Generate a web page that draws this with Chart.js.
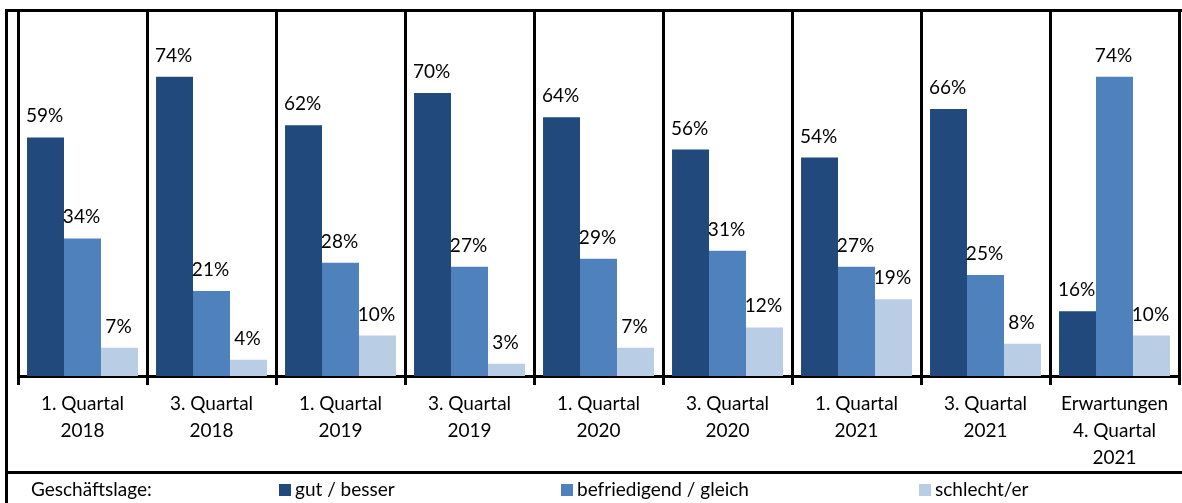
<!DOCTYPE html>
<html>
<head>
<meta charset="utf-8">
<script src="https://cdn.jsdelivr.net/npm/chart.js@4/dist/chart.umd.min.js"></script>
<style>
  body { margin: 0; background: #fff; }
  #wrap { width: 1182px; height: 503px; }
</style>
</head>
<body>
<div id="wrap"><canvas id="chart" width="1182" height="503"></canvas></div>
<script>
// categories (multi-line labels)
const categories = [
  ["1. Quartal", "2018"], ["3. Quartal", "2018"],
  ["1. Quartal", "2019"], ["3. Quartal", "2019"],
  ["1. Quartal", "2020"], ["3. Quartal", "2020"],
  ["1. Quartal", "2021"], ["3. Quartal", "2021"],
  ["Erwartungen", "4. Quartal", "2021"]
];
const seriesNames = ["gut / besser", "befriedigend / gleich", "schlecht/er"];
const gutBesser = [59, 74, 62, 70, 64, 56, 54, 66, 16];
const befriedigend = [34, 21, 28, 27, 29, 31, 27, 25, 74];
const schlechter = [7, 4, 10, 3, 7, 12, 19, 8, 10];
const legendTitle = "Geschäftslage:";

const colors = ["#21497C", "#4F81BD", "#B9CDE5"];
const FONT = "Lato, 'Open Sans', sans-serif";

// value labels above each bar
const valueLabels = {
  id: "valueLabels",
  afterDatasetsDraw(chart) {
    const ctx = chart.ctx;
    ctx.save();
    ctx.font = "19px " + FONT;
    ctx.fillStyle = "#000";
    ctx.textAlign = "center";
    ctx.textBaseline = "alphabetic";
    chart.data.datasets.forEach((ds, i) => {
      chart.getDatasetMeta(i).data.forEach((bar, j) => {
        ctx.fillText(ds.data[j] + "%", bar.x - 1, bar.y - 15);
      });
    });
    ctx.restore();
  }
};

// outer frame lines + bottom legend row
const frameAndLegend = {
  id: "frameAndLegend",
  afterDraw(chart) {
    const ctx = chart.ctx;
    const w = chart.width, h = chart.height;
    ctx.save();
    ctx.strokeStyle = "#000";
    ctx.lineWidth = 3;
    ctx.beginPath(); ctx.moveTo(6.5, 9); ctx.lineTo(6.5, h); ctx.stroke();
    ctx.beginPath(); ctx.moveTo(5, 10.5); ctx.lineTo(w, 10.5); ctx.stroke();
    ctx.beginPath(); ctx.moveTo(5, 472.5); ctx.lineTo(w, 472.5); ctx.stroke();

    ctx.font = "19px " + FONT;
    ctx.fillStyle = "#000";
    ctx.textBaseline = "middle";
    ctx.fillText(legendTitle, 31, 490);
    const xs = [279, 561, 919];
    chart.data.datasets.forEach((ds, i) => {
      ctx.fillStyle = ds.backgroundColor;
      ctx.fillRect(xs[i], 484, 12, 12);
      ctx.fillStyle = "#000";
      ctx.fillText(ds.label, xs[i] + 16, 490);
    });
    ctx.restore();
  }
};

new Chart(document.getElementById("chart"), {
  type: "bar",
  data: {
    labels: categories,
    datasets: [
      { label: seriesNames[0], data: gutBesser, backgroundColor: colors[0] },
      { label: seriesNames[1], data: befriedigend, backgroundColor: colors[1] },
      { label: seriesNames[2], data: schlechter, backgroundColor: colors[2] }
    ]
  },
  options: {
    responsive: false,
    animation: false,
    categoryPercentage: 0.86,
    barPercentage: 1.0,
    layout: { padding: { left: 18, right: 3, top: 10, bottom: 0 } },
    plugins: { legend: { display: false }, tooltip: { enabled: false } },
    scales: {
      x: {
        offset: true,
        grid: { offset: true, color: "#000", lineWidth: 3, tickLength: 9, drawOnChartArea: true },
        border: { display: true, color: "#000", width: 3 },
        ticks: {
          autoSkip: false, maxRotation: 0, padding: 5, color: "#000",
          font: { family: FONT, size: 19, lineHeight: 1.42 }
        },
        afterFit(scale) { scale.height = 127; }
      },
      y: { display: false, min: 0, max: 90.5 }
    }
  },
  plugins: [valueLabels, frameAndLegend]
});
</script>
</body>
</html>
